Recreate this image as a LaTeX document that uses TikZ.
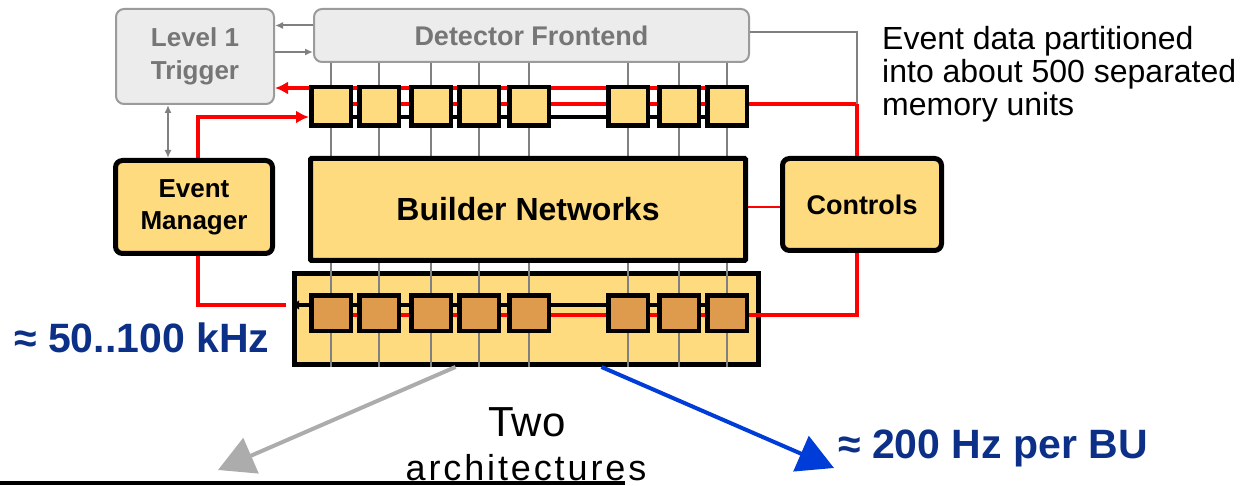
\documentclass[tikz,border=0pt]{standalone}
\usepackage{fontspec}
\setmainfont{Liberation Sans}
\usetikzlibrary{arrows.meta, positioning, calc}
\definecolor{unityellow}{RGB}{255, 219, 128}
\definecolor{unitbrown}{RGB}{222, 155, 78}
\definecolor{framegray}{RGB}{155, 155, 155}
\definecolor{fegray}{RGB}{236, 236, 236}
\definecolor{labelgray}{RGB}{118, 118, 118}
\definecolor{wiregray}{RGB}{128, 128, 128}
\definecolor{rateblue}{RGB}{12, 48, 135}
\definecolor{flowblue}{RGB}{0, 60, 215}
\definecolor{flowgray}{RGB}{172, 172, 172}
\pgfdeclarelayer{back}
\pgfdeclarelayer{wires}
\pgfsetlayers{back,wires,main}

\begin{document}
\begin{tikzpicture}[x=1pt, y=-1pt,
    fe/.style={draw=framegray, fill=fegray, line width=2pt, rounded corners=8pt, text=labelgray,
      inner sep=0pt, align=center, font=\bfseries\fontsize{26}{33}\selectfont},
    blk/.style={draw, fill=unityellow, line width=5pt, rounded corners=7pt, inner sep=0pt,
      align=center, font=\bfseries\fontsize{26}{32}\selectfont},
    memunit/.style={draw, fill=unityellow, line width=4.5pt, minimum width=39.5pt,
      minimum height=38.5pt, inner sep=0pt},
    wire/.style={draw=wiregray, line width=2pt},
    link/.style={draw=red, line width=4pt},
    bus/.style={draw=black, line width=4pt},
    tinyhead/.style={-{Latex[length=8pt, width=7pt]}},
    bigflow/.style={line width=4pt, -{Triangle[length=36pt, width=38pt]}},
    rate/.style={text=rateblue, inner sep=0pt, font=\bfseries\fontsize{41}{41}\selectfont}]
    \useasboundingbox (0,0) rectangle (1252,486);

    % trigger and frontend
    \node[fe, minimum width=158pt, minimum height=95pt] (l1) at (195,56.5) {Level 1\\Trigger};
    \node[fe, minimum width=435pt, minimum height=53pt,
      font=\bfseries\fontsize{27}{27}\selectfont] (df) at (531.5,35.5) {Detector Frontend};

    % main blocks
    \node[blk, minimum width=157pt, minimum height=93pt] (em) at (194,207) {Event\\Manager};
    \node[blk, rounded corners=1pt, minimum width=435pt, minimum height=102pt,
      font=\bfseries\fontsize{32}{32}\selectfont] (bn) at (528,209.5) {Builder Networks};
    \node[blk, minimum width=159pt, minimum height=92pt,
      font=\bfseries\fontsize{27}{27}\selectfont] (ctl) at (862,204.5) {Controls};
    \begin{pgfonlayer}{back}
        \node[blk, rounded corners=0pt, minimum width=464pt, minimum height=91pt] (ru) at (526.5,319) {};
    \end{pgfonlayer}

    % memory units, readout and builder side
    \foreach \x [count=\i] in {331,379,431,479,529,628,679,727} {
        \node[memunit] (t\i) at (\x,106.5) {};
        \node[memunit, fill=unitbrown, minimum height=35.5pt] (b\i) at (\x,313) {};
        \begin{pgfonlayer}{wires}
            \draw[wire] (df.south -| t\i) -- (bn.north -| t\i);
            \draw[wire] (bn.south -| b\i) -- (ru.south -| b\i);
        \end{pgfonlayer}
    }

    \coordinate (tm) at ([yshift=2.5pt]t1.center);
    \coordinate (cj) at ([xshift=-5pt]ctl.north |- tm);
    \begin{pgfonlayer}{wires}
        \draw[link, -{Latex[length=13pt, width=13pt]}] ([yshift=18.5pt]t8.center) -- ([yshift=18.5pt]t8.center -| l1.east);
        \draw[link] (tm) -- (cj);
        \draw[bus] ([yshift=-10.5pt]t1.center) -- ([yshift=-10.5pt]t8.center);
        \draw[link, -{Latex[length=13pt, width=13pt]}] ([xshift=4pt]em.north) |- ([yshift=-10.5pt]t1.west);
        \draw[link] ([yshift=-2pt]b1.center) -- ([yshift=-2pt]b8.center);
        \draw[bus, -{Latex[length=7pt, width=10pt]}] ([yshift=8pt]b8.center) -- ([yshift=8pt]b1.center -| ru.west);
        \draw[link, shorten >=6pt] ([xshift=4pt]em.south) |- ([yshift=8pt]b1.center -| ru.west);
    \end{pgfonlayer}

    % trigger paths
    \draw[wire, tinyhead] ([yshift=10pt]df.west) -- ([yshift=10pt]df.west -| l1.east);
    \draw[wire, tinyhead] ([yshift=-16.5pt]df.west -| l1.east) -- ([yshift=-16.5pt]df.west);
    \draw[wire, {Latex[length=8pt, width=7pt]}-{Latex[length=8pt, width=7pt]}] ([xshift=-27pt]l1.south) -- ([xshift=-27pt]l1.south |- em.north);

    % controls
    \draw[wire] ([yshift=3.5pt]df.east) -| (cj);
    \draw[link] (cj) -- (cj |- ctl.north);
    \draw[draw=red, line width=2pt] ([yshift=2.5pt]bn.east) -- ([yshift=2.5pt]bn.east -| ctl.west);
    \draw[link] (cj |- ctl.south) |- ([yshift=-2pt]b8.east);

    % texts
    \node[inner sep=0pt, anchor=north west, align=left, font=\fontsize{32}{33}\selectfont] (note) at (882,26)
        {Event data partitioned\\into about 500 separated\\memory units};
    \node[rate, anchor=west] (fin) at (14,338) {≈ 50..100 kHz};
    \node[rate, anchor=base west] (fout) at (838,458) {≈ 200 Hz per BU};
    \node[inner sep=0pt, anchor=base, font=\fontsize{42}{42}\selectfont] (two) at (527,436) {Two};
    \node[inner sep=0pt, anchor=base, font=\fontsize{36}{36}\selectfont\addfontfeature{LetterSpace=8}] (arch) at (526,480) {architectures};
    \draw[line width=4pt] (0,483) -- (625,483);

    % two architectures
    \coordinate (gtip) at (218,470);
    \coordinate (btip) at (834,468);
    \draw[bigflow, flowgray] ([xshift=-71pt]ru.south) -- (gtip);
    \draw[bigflow, flowblue] ([xshift=75pt]ru.south) -- (btip);
\end{tikzpicture}
\end{document}
